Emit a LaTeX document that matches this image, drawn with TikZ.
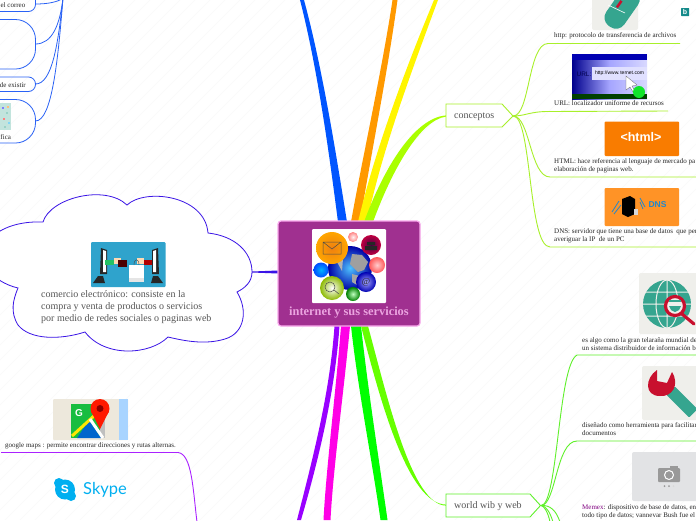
\documentclass[tikz,border=0pt]{standalone}
\usepackage{fontspec}
\setmainfont{Liberation Serif}
\setsansfont{Liberation Sans}
\newfontfamily\skypefont{Lato}
\usetikzlibrary{calc}
\definecolor{limeA}{HTML}{AAFF00}
\definecolor{limeB}{HTML}{A8F02A}
\definecolor{limeC}{HTML}{66FF00}
\definecolor{limeD}{HTML}{5FF02A}
\definecolor{blueA}{HTML}{0055FF}
\definecolor{blueB}{HTML}{2A62F5}
\definecolor{orangeA}{HTML}{FF9900}
\definecolor{yellowA}{HTML}{FFF500}
\definecolor{purpleA}{HTML}{9900FF}
\definecolor{purpleB}{HTML}{AA22FF}
\definecolor{magentaA}{HTML}{FF00E6}
\definecolor{greenA}{HTML}{00FF00}
\definecolor{cloudC}{HTML}{3A14E6}
\definecolor{centreC}{HTML}{A03090}
\definecolor{centreB}{HTML}{F8A8EC}
\definecolor{centreT}{HTML}{EBA4E0}
\definecolor{tile}{HTML}{EFEFEB}
\definecolor{teal}{HTML}{35A58F}
\definecolor{crimson}{HTML}{C8102E}
\definecolor{inkC}{HTML}{555555}
\definecolor{cloudpic}{HTML}{2FA3CC}
\definecolor{orangepic}{HTML}{F97C00}
\definecolor{orangepicB}{HTML}{FF9326}
\definecolor{dnsblue}{HTML}{2288CC}
\definecolor{bingteal}{HTML}{148A8A}
\definecolor{camtile}{HTML}{E2E3E5}
\definecolor{mapbg}{HTML}{EDE8DC}
\definecolor{mapwater}{HTML}{A8D4FF}
\definecolor{skypeblue}{HTML}{00AFF0}
\tikzset{
  x=1pt,y=-1pt,
  tiny/.style={inner sep=0,anchor=west,font=\fontsize{7}{8}\selectfont,text=black!85},
  topic/.style={inner sep=0,anchor=west,font=\fontsize{10}{12}\selectfont,text=inkC},
  pill/.style={draw=blueB,line width=.8pt,rounded corners=7pt},
  pillbig/.style={draw=blueB,line width=.8pt,rounded corners=20pt},
  under/.style={line width=.9pt},
  link/.style={line width=.8pt},
  bub/.style 2 args={inner color=#1,outer color=#2},
}
\begin{document}
\begin{tikzpicture}
\useasboundingbox (0,0) rectangle (696,520);
\clip (0,0) rectangle (696,520);
\fill[white] (0,0) rectangle (696,520);
\foreach \k in {-520,-505,...,696}
  \draw[black!2.5,line width=.4pt] (\k,520) -- ++(520,-520);

% ---------- main tapered branches
\fill[blueA] (338,222) .. controls (330,160) and (318,70) .. (300,0) -- (304,0) .. controls (323,70) and (337,160) .. (347,222) -- cycle;
\fill[orangeA] (351,222) .. controls (362,160) and (382,70) .. (392.5,0) -- (397.5,0) .. controls (388,70) and (370,160) .. (360,222) -- cycle;
\fill[yellowA] (358,222) .. controls (375,150) and (405,70) .. (434,0) -- (438,0) .. controls (412,70) and (382,150) .. (367,222) -- cycle;
\fill[limeA] (364,222) .. controls (385,165) and (415,118) .. (446,115.4) -- (446,116.6) .. controls (420,120) and (392,170) .. (373,222) -- cycle;
\fill[purpleA] (334.5,326) .. controls (330,390) and (315,450) .. (297,520) -- (301,520) .. controls (320,455) and (335,390) .. (339.5,326) -- cycle;
\fill[magentaA] (341,326) .. controls (336,390) and (326,470) .. (323.5,520) -- (330.5,520) .. controls (333,470) and (344,390) .. (350,326) -- cycle;
\fill[greenA] (351,326) .. controls (358,390) and (372,460) .. (380.5,520) -- (387.5,520) .. controls (379,460) and (368,390) .. (361,326) -- cycle;
\fill[limeC] (361,326) .. controls (380,400) and (408,504) .. (446,504.6) -- (446,505.6) .. controls (412,505) and (388,400) .. (368,326) -- cycle;
\fill[cloudC] (252,271.5) -- (278,270.5) -- (278,273.5) -- (252,272.5) -- cycle;

% ---------- central topic
\node[draw=centreB,fill=centreC,line width=1.2pt,rounded corners=3pt,minimum width=142pt,minimum height=105pt,inner sep=0] (centre) at (349,273.5) {};
\node[fill=white,inner sep=0,minimum width=74pt,minimum height=74pt,rounded corners=1pt] (centrepic) at (349,266) {};
\node[inner sep=0,font=\fontsize{12.4}{13}\selectfont\bfseries,text=centreT] (centretitle) at (349,313) {internet y sus servicios};
\shade[bub={blue!35!cyan!70!white}{blue!65!black}] (350,268) circle (22);
\fill[gray!75] (352,254) -- (362,255) -- (368,262) -- (364,270) -- (358,272) -- (350,264) -- cycle;
\fill[gray!70] (352,274) -- (360,276) -- (357,285) -- (352,282) -- cycle;
\fill[gray!60] (337,262) -- (343,259) -- (342,271) -- cycle;
\shade[bub={orange!75!brown}{orange!70!yellow}] (332,248) circle (16);
\draw[black!70,line width=.5pt] (323,242) rectangle (341,254) (323,242) -- (332,249) -- (341,242);
\shade[bub={violet!55!black}{violet!50!red}] (371,245) circle (10);
\fill[black!85] (365,246) rectangle (377,250) (367,242) rectangle (375,245);
\shade[bub={white!80!red}{red!65}] (377,265) circle (8);
\shade[bub={white!80!pink}{pink!70!red}] (353,237) circle (5);
\shade[bub={blue!30!cyan}{blue!70!cyan}] (321,270) circle (7.5);
\shade[bub={blue!35!white}{blue!70!black}] (366,282) circle (10);
\node[inner sep=0,font=\fontsize{9}{9}\selectfont,text=black!85] (atsign) at (366,282) {@};
\shade[bub={white}{green!45!orange}] (332,288) circle (12);
\draw[black!70,line width=.5pt] (330,287) circle (5) (334,290) -- (339,294);
\shade[bub={green!25}{green!50!black}] (353,294) circle (7);

% ---------- cloud
\draw[cloudC,line width=.8pt,fill=white]
  (43,222) .. controls (50,198) and (105,184) .. (127,205)
  .. controls (145,188) and (205,195) .. (208,233)
  .. controls (235,236) and (252,252) .. (252,272)
  .. controls (252,282) and (245,288) .. (237,292)
  .. controls (248,310) and (245,333) .. (225,339)
  .. controls (205,345) and (185,341) .. (168,337)
  .. controls (150,355) and (105,358) .. (85,332)
  .. controls (60,340) and (30,340) .. (18,325)
  .. controls (10,312) and (13,300) .. (18,288)
  .. controls (5,285) and (-5,278) .. (-10,272)
  .. controls (-30,250) and (-5,220) .. (43,222) -- cycle;
\fill[cloudpic,rounded corners=1pt] (91,242) rectangle (165.5,287);
\fill[black!85] (101,248) -- (107,250) -- (107,274) -- (100,274) -- cycle (158,248) -- (152,250) -- (152,274) -- (159,274) -- cycle;
\fill[white] (103,250) -- (106,251) -- (106,272) -- (103,272) -- cycle (156,250) -- (153,251) -- (153,272) -- (156,272) -- cycle;
\fill[black!85] (93,283) -- (105,283) -- (103,276) -- (98,276) -- cycle (163,283) -- (151,283) -- (153,276) -- (158,276) -- cycle;
\fill[teal!70!green] (105,260) rectangle (114,265);
\fill[orange!30!white] (114,258) rectangle (121,264);
\fill[black!70!red] (118,260) rectangle (127,267);
\fill[red!70!black] (144,260) rectangle (152,265);
\fill[orange!30!white] (137,258) rectangle (144,264);
\fill[black!10] (129,265) rectangle (144,282);
\fill[white] (129,265) rectangle (144,278);
\draw[black!70,line width=.4pt] (134,265) .. controls (134,258) and (139,258) .. (139,265);
\node[topic,anchor=base west] (t1) at (41,297) {comercio electrónico: consiste en la};
\node[topic,anchor=base west] (t2) at (41,309) {compra y venta de productos o servicios};
\node[topic,anchor=base west] (t3) at (41,321) {por medio de redes sociales o paginas web};

% ---------- top-left pills
\coordinate (hubA) at (63,-2);
\draw[pill] (-20,-12) rectangle (35.5,11.5);
\draw[pillbig] (-40,19.5) rectangle (35.5,69);
\draw[pill] (-40,77) rectangle (35.5,91.5);
\draw[pillbig] (-40,99.5) rectangle (35.5,143);
\node[tiny,anchor=east] (p1t) at (25.5,5) {el correo};
\node[tiny,anchor=east] (p3t) at (26,85) {de existir};
\node[tiny,anchor=west] (p4t) at (0.3,137) {fica};
\fill[teal!30!white] (0,103) rectangle (10.5,130);
\foreach \a/\b/\c in {2/107/blue,6/112/teal,3/118/red,8/122/cyan,4/126/teal,7/106/orange}
  \fill[\c!50] (\a,\b) rectangle ++(2,2);
\draw[blueB,link] (35.5,4) .. controls (48,4) and (58,2) .. (hubA);
\draw[blueB,link] (35.5,44) .. controls (52,44) and (60,25) .. (hubA);
\draw[blueB,link] (35.5,84) .. controls (52,84) and (58,45) .. (hubA);
\draw[blueB,link] (35.5,121) .. controls (52,121) and (58,60) .. (hubA);

% ---------- conceptos
\node[inner sep=0,minimum size=0pt] (conTip) at (513,116) {};
\draw[limeB,line width=.9pt,fill=white] (446,104) -- (502,104) -- (513,116) -- (502,127) -- (446,127) -- cycle;
\node[topic] (con) at (454,117) {conceptos};
\coordinate (u1) at (548,43.5); \coordinate (u1e) at (680,43.5);
\coordinate (u2) at (548,111.5); \coordinate (u2e) at (668,111);
\coordinate (u3) at (550,177); \coordinate (u3e) at (696,177);
\coordinate (u4) at (550,247); \coordinate (u4e) at (696,247);
\draw[limeB,under] (conTip) .. controls (530,116) and (528,43.5) .. (u1) -- (u1e);
\draw[limeB,under] (conTip) .. controls (525,116) and (530,111.5) .. (u2) -- (u2e);
\draw[limeB,under] (conTip) .. controls (530,116) and (530,177) .. (u3) -- (u3e);
\draw[limeB,under] (conTip) .. controls (532,116) and (528,247) .. (u4) -- (u4e);

% http tile
\fill[tile,rounded corners=2pt] (592,-5) rectangle (638,30);
\fill[teal,rotate around={-35:(621,10)},rounded corners=10pt] (610,-14) rectangle (632,30);
\draw[white,line width=.6pt] (608,5) -- (625,13);
\fill[crimson,rotate around={-35:(619,4)}] (618,0) rectangle (620.5,8);
\node[tiny] (h1) at (554,36) {http: protocolo de transferencia de archivos};

% url tile
\shade[left color=blue!55!black,right color=blue!15!white,middle color=blue!35!white] (572,54) rectangle (647,99);
\fill[blue!70!black] (572,54) rectangle (647,60);
\fill[white!88!blue] (592,67) rectangle (647,80);
\node[inner sep=0,font=\fontsize{6.5}{8}\selectfont\sffamily,text=blue!30!black] (urll) at (584,74) {URL:};
\node[inner sep=0,font=\fontsize{5}{7}\selectfont\sffamily,text=black] (urlt) at (619.5,73.5) {http://www.\,ternet.com};
\fill[black!75!green] (572,94) rectangle (647,99);
\fill[white,draw=black!60,line width=.3pt] (626,76) -- (626,90) -- (630,87) -- (633,92) -- (635,91) -- (632,86) -- (637,85) -- cycle;
\fill[green!70!teal] (639,92) circle (6);
\node[tiny] (h2) at (554,103.5) {URL: localizador uniforme de recursos};

% html tile
\fill[orangepic,rounded corners=1pt] (604.5,121.5) rectangle (679,156);
\node[inner sep=0,font=\fontsize{12.5}{14}\selectfont\sffamily\bfseries,text=white] (htmlt) at (641,137) {<html>};
\node[tiny,align=left] (h3) at (554,166) {HTML: hace referencia al lenguaje de mercado pa\\elaboración de paginas web.};

% dns tile
\fill[orangepicB,rounded corners=1pt] (604.5,188) rectangle (679,226);
\fill[black] (622,199) -- (630,196) -- (635,199) -- (635,214) -- (628,217) -- (622,214) -- cycle;
\fill[white!85!black] (634,209) rectangle (637.5,215);
\draw[dnsblue,line width=.8pt] (612,212) -- (619,201) (614,214) -- (621,205) (640,198) -- (645,207) (640,202) -- (643,209);
\node[inner sep=0,font=\fontsize{8.5}{10}\selectfont\sffamily\bfseries,text=dnsblue] (dnst) at (657.5,205) {DNS};
\node[tiny,align=left] (h4) at (554,236) {DNS: servidor que tiene una base de datos \ que per\\averiguar la IP \ de un PC};

\fill[bingteal,rounded corners=.5pt] (681,8) rectangle (689,16);
\node[inner sep=0,font=\fontsize{7}{8}\selectfont\sffamily\bfseries,text=white] (bing) at (685,12) {b};

% ---------- world wib y web
\node[inner sep=0,minimum size=0pt] (wwwTip) at (541,505.5) {};
\draw[limeD,line width=.9pt,fill=white] (446,494) -- (530,494) -- (540.5,505.5) -- (530,517) -- (446,517) -- cycle;
\node[topic] (www) at (454,506) {world wib y web};
\coordinate (w1) at (577,355); \coordinate (w1e) at (696,355);
\coordinate (w2) at (577,441); \coordinate (w2e) at (696,441);
\coordinate (w3) at (560,522); \coordinate (w4) at (553,522); \coordinate (w5) at (550,522);
\draw[limeD,under] (wwwTip) .. controls (558,505) and (558,365) .. (w1) -- (w1e);
\draw[limeD,under] (wwwTip) .. controls (556,505) and (556,441) .. (w2) -- (w2e);
\draw[limeD,under] (wwwTip) .. controls (550,505) and (556,510) .. (w3);
\draw[limeD,under] (wwwTip) .. controls (546,506) and (550,512) .. (w4);
\draw[limeD,under] (wwwTip) .. controls (544,506) and (548,512) .. (w5);

% globe tile
\fill[tile,rounded corners=2pt] (639,273) rectangle (700,334);
\fill[teal] (667,304) circle (24);
\draw[tile,line width=1pt] (667,304) ellipse (11 and 24) (667,280) -- (667,328) (645,292) -- (689,292) (645,316) -- (689,316) (643,304) -- (691,304);
\draw[crimson,line width=3.2pt,fill=tile] (675,306) circle (9.5);
\draw[crimson,line width=3.2pt,line cap=round] (682,314) -- (694,324);
\fill[teal] (669,300) rectangle (681,302);
\fill[teal] (669,306) -- (681,306) -- (679,310) -- (675,312) -- (671,310) -- cycle;
\node[tiny,align=left] (w1t) at (582,344) {es algo como la gran telaraña mundial de\\un sistema distribuidor de información b};

% wrench tile
\fill[tile,rounded corners=2pt] (642,366) rectangle (700,420);
\fill[teal,rotate around={-45:(682,402)},rounded corners=1pt] (666,396) rectangle (698,408);
\fill[crimson] (657,370) .. controls (645,378) and (644,396) .. (660,396) .. controls (672,397) and (680,385) .. (672,372) -- (667,383) -- (657,381) -- cycle;
\node[tiny,align=left] (w2t) at (582,429.5) {diseñado como herramienta para facilitar\\documentos};

% camera tile
\fill[camtile,rounded corners=2pt] (632,452) rectangle (700,501);
\fill[black!40,rounded corners=1pt] (658,468) rectangle (680,482);
\fill[black!40] (670,466) rectangle (678,468);
\draw[white,line width=1pt] (669,475) circle (4.5);
\fill[black!40] (664.5,486) circle (1) (669,486) circle (1);
\fill[black!15] (673.5,486) circle (1);
\node[tiny,align=left] (w3t) at (582,511.5) {\textcolor{violet}{Memex}: dispositivo de base de datos, en\\todo tipo de datos; vannevar Bush fue el};

% ---------- google maps / skype
\coordinate (g0) at (1,452.5);
\coordinate (gEnd) at (197,522);
\draw[purpleB,line width=.9pt] (g0) -- (178,452.5) .. controls (192,454) and (193,490) .. (gEnd);
\fill[mapbg,rounded corners=1pt] (53,399) rectangle (128,440);
\fill[mapwater] (119,399) rectangle (128,440);
\fill[black!25] (100,404) rectangle (105,438);
\fill[green!50!teal!90!black] (71,404) rectangle (100,438);
\fill[blue!50!cyan!80!black] (77,438) -- (89,420) -- (101,438) -- cycle;
\draw[yellow!90!orange,line width=3pt] (72,436) -- (95,415);
\draw[white,line width=3pt] (90,419) -- (103,438);
\node[inner sep=0,font=\fontsize{10}{11}\selectfont\sffamily\bfseries,text=white] (mapg) at (79,413) {G};
\fill[red!80!orange] (100,408.5) circle (9.5);
\fill[red!80!orange] (91,411) -- (100,429) -- (109,411) -- cycle;
\fill[red!55!black] (100,408.5) circle (3.5);
\node[tiny] (gt) at (5,446) {google maps : permite encontrar direcciones y rutas alternas.};
\fill[skypeblue] (65,489.5) circle (10);
\fill[skypeblue] (59,483) circle (5) (71,496) circle (5);
\node[inner sep=0,font=\fontsize{12}{12}\selectfont\sffamily\bfseries,text=white] (skypeS) at (65,489.5) {S};
\node[inner sep=0,anchor=west,font=\skypefont\fontsize{16.5}{20}\selectfont,text=skypeblue] (skypeT) at (83,490) {Skype};
\end{tikzpicture}
\end{document}
